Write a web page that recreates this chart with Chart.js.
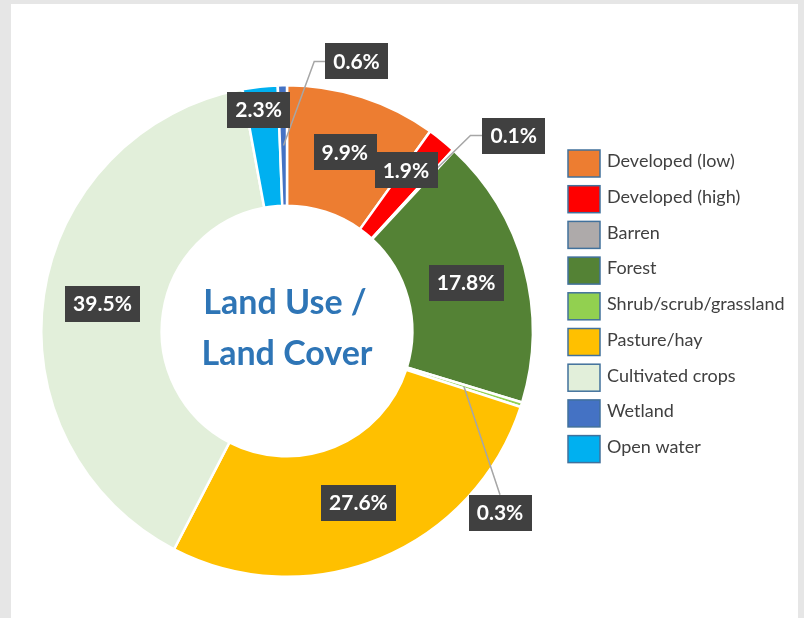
<!DOCTYPE html>
<html>
<head>
<meta charset="utf-8">
<script src="https://cdn.jsdelivr.net/npm/chart.js@4/dist/chart.umd.min.js"></script>
<style>
  html, body { margin: 0; padding: 0; background: #e6e6e6; width: 804px; height: 618px; overflow: hidden; }
  #panel { position: absolute; left: 11px; top: 4px; width: 787px; height: 620px; background: #ffffff; }
  #c { position: absolute; left: 0; top: 0; }
</style>
</head>
<body>
<div id="panel"></div>
<canvas id="c" width="804" height="618"></canvas>
<script>
// ---- Data ----
const categories = ['Developed (low)', 'Developed (high)', 'Barren', 'Forest', 'Shrub/scrub/grassland', 'Pasture/hay', 'Cultivated crops', 'Open water', 'Wetland'];
const shares = [9.9, 1.9, 0.1, 17.8, 0.3, 27.6, 39.5, 2.3, 0.6];
const legendOrder = ['Developed (low)', 'Developed (high)', 'Barren', 'Forest', 'Shrub/scrub/grassland', 'Pasture/hay', 'Cultivated crops', 'Wetland', 'Open water'];
const centerTitle = ['Land Use /', 'Land Cover'];

// ---- Styles ----
const sliceColors = ['#ED7D31', '#FF0000', '#AEAAAA', '#548235', '#92D050', '#FFC000', '#E2EFDA', '#00B0F0', '#4472C4'];

// label box offsets from slice centroid, and leader line styles
const labelOffsets = [[1, -2], [2, -17], [101, -59], [0, 0], [36, 126], [1, 0], [-1, 0], [-8, -37], [73, -84]];
const leaders = [null, null, {from: 'left', elbow: 12, r: 0.8}, null, {from: 'top', r: 0.5}, null, null, null, {from: 'left', elbow: 11, r: 0.5}];

const labelPlugin = {
  id: 'labelPlugin',
  afterDatasetsDraw(chart) {
    const ctx = chart.ctx;
    const meta = chart.getDatasetMeta(0);
    const arcs = meta.data;
    const cx = arcs[0].x, cy = arcs[0].y;

    // center title
    ctx.save();
    ctx.fillStyle = '#2E75B6';
    ctx.font = 'bold 34px Lato';
    ctx.textAlign = 'center';
    ctx.textBaseline = 'middle';
    ctx.fillText(centerTitle[0], cx - 2, cy - 28);
    ctx.fillText(centerTitle[1], cx, cy + 23);
    ctx.restore();

    // data labels
    ctx.save();
    ctx.font = 'bold 21px Lato';
    const boxes = [];
    arcs.forEach((arc, i) => {
      const mid = (arc.startAngle + arc.endAngle) / 2;
      const rMid = (arc.innerRadius + arc.outerRadius) / 2;
      const bx = arc.x + rMid * Math.cos(mid) + labelOffsets[i][0];
      const by = arc.y + rMid * Math.sin(mid) + labelOffsets[i][1];
      const text = shares[i].toFixed(1) + '%';
      const w = ctx.measureText(text).width + 16;
      const h = 36;
      boxes.push({bx, by, w, h, text, mid, arc, i});
    });
    // leader lines
    ctx.strokeStyle = '#A6A6A6';
    ctx.lineWidth = 1.5;
    boxes.forEach(b => {
      const L = leaders[b.i];
      if (!L) return;
      const arc = b.arc;
      const r = arc.innerRadius + (arc.outerRadius - arc.innerRadius) * L.r;
      const ax = arc.x + r * Math.cos(b.mid);
      const ay = arc.y + r * Math.sin(b.mid);
      ctx.beginPath();
      if (L.from === 'left') {
        const sx = b.bx - b.w / 2;
        ctx.moveTo(sx, b.by);
        ctx.lineTo(sx - L.elbow, b.by);
      } else {
        ctx.moveTo(b.bx, b.by - b.h / 2);
      }
      ctx.lineTo(ax, ay);
      ctx.stroke();
    });
    // boxes
    ctx.textAlign = 'center';
    ctx.textBaseline = 'middle';
    boxes.forEach(b => {
      ctx.fillStyle = '#404040';
      ctx.fillRect(Math.round(b.bx - b.w / 2), Math.round(b.by - b.h / 2), Math.round(b.w), b.h);
      ctx.fillStyle = '#FFFFFF';
      ctx.fillText(b.text, b.bx, b.by + 1);
    });
    ctx.restore();

    // legend
    ctx.save();
    const lx = 568, ly0 = 150, step = 35.7, bw = 32, bh = 27;
    ctx.font = '18px Lato';
    ctx.textAlign = 'left';
    ctx.textBaseline = 'middle';
    legendOrder.forEach((name, k) => {
      const idx = categories.indexOf(name);
      const y = ly0 + k * step;
      ctx.fillStyle = sliceColors[idx];
      ctx.fillRect(lx, y, bw, bh);
      ctx.strokeStyle = '#41719C';
      ctx.lineWidth = 1.5;
      ctx.strokeRect(lx, y, bw, bh);
      ctx.fillStyle = '#404040';
      ctx.fillText(name, lx + bw + 7, y + bh / 2 - 2);
    });
    ctx.restore();
  }
};

new Chart(document.getElementById('c'), {
  type: 'doughnut',
  data: {
    labels: categories,
    datasets: [{
      data: shares,
      backgroundColor: sliceColors,
      borderColor: '#FFFFFF',
      borderWidth: 2.5
    }]
  },
  options: {
    responsive: false,
    animation: false,
    events: [],
    cutout: '51%',
    rotation: 0,
    layout: { padding: { left: 15, right: 245, top: 84, bottom: 40 } },
    plugins: {
      legend: { display: false },
      tooltip: { enabled: false },
      title: { display: false }
    }
  },
  plugins: [labelPlugin]
});
</script>
</body>
</html>
